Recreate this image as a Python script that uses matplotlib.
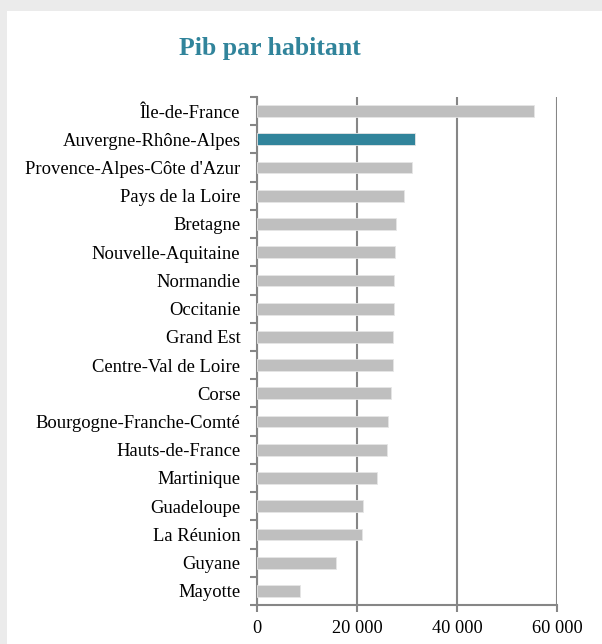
import matplotlib.pyplot as plt
from matplotlib.patches import Rectangle
from matplotlib.ticker import FuncFormatter, FixedLocator
import numpy as np

regions = ["Île-de-France", "Auvergne-Rhône-Alpes", "Provence-Alpes-Côte d'Azur",
           "Pays de la Loire", "Bretagne", "Nouvelle-Aquitaine", "Normandie",
           "Occitanie", "Grand Est", "Centre-Val de Loire", "Corse",
           "Bourgogne-Franche-Comté", "Hauts-de-France", "Martinique",
           "Guadeloupe", "La Réunion", "Guyane", "Mayotte"]
pib = [55300, 31600, 30900, 29400, 27800, 27600, 27400,
       27400, 27250, 27150, 26850, 26200, 26050, 23900,
       21200, 21000, 15800, 8600]
highlight = "Auvergne-Rhône-Alpes"
xticks = [0, 20000, 40000, 60000]

gris = "#bfbfbf"
teal = "#31849b"
ligne = "#868686"

plt.rcParams['font.family'] = ['Liberation Serif', 'DejaVu Serif']

fig = plt.figure(figsize=(6.02, 6.44), dpi=100)
fig.patch.set_facecolor("#ebebeb")
fig.add_artist(Rectangle((7 / 602, 0), 1, 1 - 11 / 644, transform=fig.transFigure,
                         facecolor="white", edgecolor="none", zorder=0))

ax = fig.add_axes([257 / 602, 39 / 644, 300 / 602, 508 / 644])
ax.set_facecolor("none")

y = np.arange(len(regions))
couleurs = [teal if r == highlight else gris for r in regions]
ax.barh(y, pib, height=0.42, color=couleurs, edgecolor="#e6e6e6", linewidth=0.6, zorder=3)

ax.set_xlim(0, 60000)
ax.set_ylim(len(regions) - 0.5, -0.5)

ax.set_yticks(y)
ax.set_yticklabels(regions, fontsize=13.4)
ax.yaxis.set_minor_locator(FixedLocator(np.arange(len(regions) + 1) - 0.5))
ax.tick_params(axis="y", which="major", length=0, pad=12)
ax.tick_params(axis="y", which="minor", length=5, width=1.5, color=ligne)

ax.set_xticks(xticks)
ax.xaxis.set_major_formatter(FuncFormatter(lambda v, p: f"{int(v):,}".replace(",", " ")))
ax.tick_params(axis="x", length=5, width=1.5, color=ligne, labelsize=13.2, pad=6)

ax.grid(axis="x", color=ligne, linewidth=1.5, zorder=1)
for s in ["top", "right"]:
    ax.spines[s].set_visible(False)
for s in ["left", "bottom"]:
    ax.spines[s].set_color(ligne)
    ax.spines[s].set_linewidth(1.5)

fig.text(270 / 602, 1 - 49 / 644, "Pib par habitant", ha="center", va="center",
         fontsize=18.5, fontweight="bold", color=teal)

fig.savefig("out.png", dpi=100)
